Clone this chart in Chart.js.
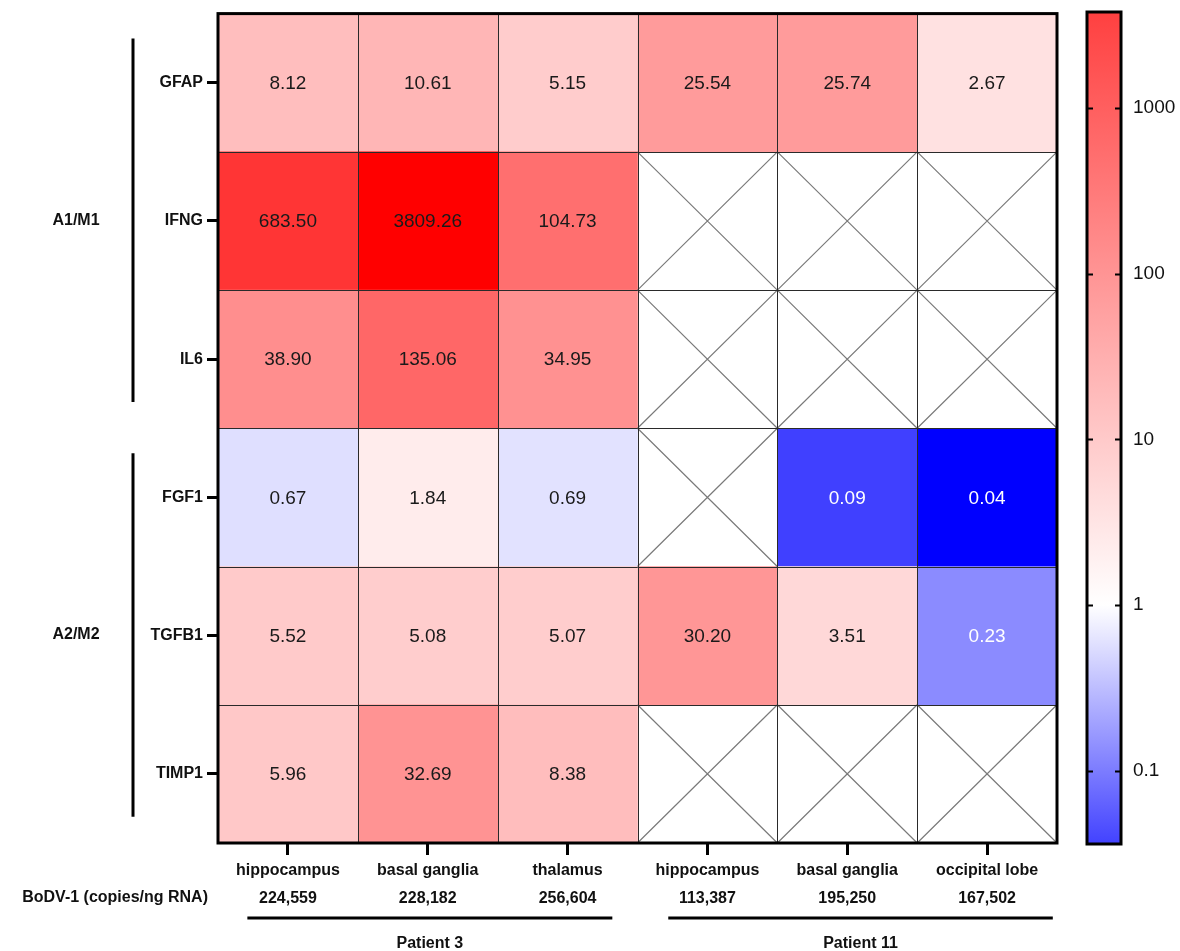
<!DOCTYPE html>
<html>
<head>
<meta charset="utf-8">
<script src="https://cdn.jsdelivr.net/npm/chart.js@4.4.1/dist/chart.umd.min.js"></script>
<style>
  html, body { margin: 0; padding: 0; background: #fff; }
  #wrap { position: relative; width: 1180px; height: 951px; }
  #heat { position: absolute; left: 0; top: 0; }
  #bar { position: absolute; left: 1060px; top: 0; }
</style>
</head>
<body>
<div id="wrap">
  <canvas id="heat" width="1070" height="951"></canvas>
  <canvas id="bar" width="120" height="951"></canvas>
</div>
<script>
// data
var GENES = ['GFAP', 'IFNG', 'IL6', 'FGF1', 'TGFB1', 'TIMP1'];
var REGIONS = ['hippocampus', 'basal ganglia', 'thalamus', 'hippocampus', 'basal ganglia', 'occipital lobe'];
var COPIES = ['224,559', '228,182', '256,604', '113,387', '195,250', '167,502'];

var GFAP  = [8.12, 10.61, 5.15, 25.54, 25.74, 2.67];
var IFNG  = [683.50, 3809.26, 104.73, null, null, null];
var IL6   = [38.90, 135.06, 34.95, null, null, null];
var FGF1  = [0.67, 1.84, 0.69, null, 0.09, 0.04];
var TGFB1 = [5.52, 5.08, 5.07, 30.20, 3.51, 0.23];
var TIMP1 = [5.96, 32.69, 8.38, null, null, null];
var VALUES = [GFAP, IFNG, IL6, FGF1, TGFB1, TIMP1];

var GROUPS = ['A1/M1', 'A2/M2'];
var GROUP_ROWS = [[0, 2], [3, 5]];
var PATIENTS = ['Patient 3', 'Patient 11'];
var PATIENT_SPAN = [[0.21, 2.82], [3.22, 5.97]];

var CB_TICKS = [0.1, 1, 10, 100, 1000];
var CB_MIN = 0.036;
var CB_MAX = 3809.26;

var FONT = "'Liberation Sans', Arial, sans-serif";
Chart.defaults.font.family = FONT;

var LOG_LO = Math.log10(0.04);
var LOG_HI = Math.log10(3809.26);

function cellColor(v) {
  var t = Math.log10(v), f, g;
  if (t >= 0) {
    f = Math.min(1, t / LOG_HI);
    g = Math.round(255 * (1 - f));
    return 'rgb(255,' + g + ',' + g + ')';
  }
  f = Math.min(1, t / LOG_LO);
  g = Math.round(255 * (1 - f));
  return 'rgb(' + g + ',' + g + ',255)';
}

function darkCell(v) {
  return v !== null && Math.log10(v) / LOG_LO > 0.4;
}

// one dataset per column, floating bars across [c, c+1]
var datasets = REGIONS.map(function (_, c) {
  return {
    label: 'col' + c,
    data: GENES.map(function (g, r) { return VALUES[r][c] === null ? null : [c, c + 1]; }),
    backgroundColor: GENES.map(function (g, r) { return VALUES[r][c] === null ? '#fff' : cellColor(VALUES[r][c]); }),
    borderWidth: 0,
    grouped: false,
    barPercentage: 1,
    categoryPercentage: 1
  };
});

var heatDecor = {
  id: 'heatDecor',
  afterDatasetsDraw: function (chart) {
    var ctx = chart.ctx, a = chart.chartArea;
    var xs = chart.scales.x, ys = chart.scales.y;
    var rowEdge = function (i) {
      if (i <= 0) return a.top;
      if (i >= GENES.length) return a.bottom;
      return (ys.getPixelForValue(i - 1) + ys.getPixelForValue(i)) / 2;
    };
    ctx.save();
    // crosses for missing cells
    ctx.strokeStyle = '#7a7a7a';
    ctx.lineWidth = 1.2;
    GENES.forEach(function (g, r) {
      REGIONS.forEach(function (_, c) {
        if (VALUES[r][c] !== null) return;
        var x0 = xs.getPixelForValue(c), x1 = xs.getPixelForValue(c + 1);
        var y0 = rowEdge(r), y1 = rowEdge(r + 1);
        ctx.beginPath();
        ctx.moveTo(x0, y0); ctx.lineTo(x1, y1);
        ctx.moveTo(x1, y0); ctx.lineTo(x0, y1);
        ctx.stroke();
      });
    });
    // cell grid
    ctx.strokeStyle = '#2a2a2a';
    ctx.lineWidth = 1;
    for (var c = 1; c < REGIONS.length; c++) {
      var x = Math.round(xs.getPixelForValue(c)) + 0.5;
      ctx.beginPath(); ctx.moveTo(x, a.top); ctx.lineTo(x, a.bottom); ctx.stroke();
    }
    for (var r = 1; r < GENES.length; r++) {
      var y = Math.round(rowEdge(r)) + 0.5;
      ctx.beginPath(); ctx.moveTo(a.left, y); ctx.lineTo(a.right, y); ctx.stroke();
    }
    // values
    ctx.font = '19px ' + FONT;
    ctx.textAlign = 'center';
    ctx.textBaseline = 'middle';
    GENES.forEach(function (g, r) {
      REGIONS.forEach(function (_, c) {
        var v = VALUES[r][c];
        if (v === null) return;
        ctx.fillStyle = darkCell(v) ? '#fff' : '#1a1a1a';
        ctx.fillText(v.toFixed(2), xs.getPixelForValue(c + 0.5), ys.getPixelForValue(r) + 1);
      });
    });
    // outer frame
    ctx.strokeStyle = '#000';
    ctx.lineWidth = 3;
    ctx.strokeRect(a.left, a.top, a.right - a.left, a.bottom - a.top);

    // group brackets on the left
    var rowH = rowEdge(1) - rowEdge(0);
    ctx.lineWidth = 3;
    ctx.font = 'bold 16px ' + FONT;
    ctx.fillStyle = '#111';
    GROUPS.forEach(function (name, i) {
      var yTop = ys.getPixelForValue(GROUP_ROWS[i][0]) - 0.32 * rowH;
      var yBot = ys.getPixelForValue(GROUP_ROWS[i][1]) + 0.31 * rowH;
      ctx.beginPath(); ctx.moveTo(133, yTop); ctx.lineTo(133, yBot); ctx.stroke();
      ctx.textAlign = 'center';
      ctx.fillText(name, 76, (yTop + yBot) / 2);
    });

    // copies row title and patient brackets
    ctx.textAlign = 'right';
    ctx.fillText('BoDV-1 (copies/ng RNA)', 208, a.bottom + 55);
    PATIENTS.forEach(function (name, i) {
      var x0 = xs.getPixelForValue(PATIENT_SPAN[i][0]);
      var x1 = xs.getPixelForValue(PATIENT_SPAN[i][1]);
      var yl = a.bottom + 75;
      ctx.beginPath(); ctx.moveTo(x0, yl); ctx.lineTo(x1, yl); ctx.stroke();
      ctx.textAlign = 'center';
      ctx.fillText(name, (x0 + x1) / 2, a.bottom + 101);
    });
    ctx.restore();
  }
};

new Chart(document.getElementById('heat'), {
  type: 'bar',
  data: { labels: GENES, datasets: datasets },
  options: {
    indexAxis: 'y',
    responsive: false,
    devicePixelRatio: 1,
    animation: false,
    layout: { padding: { left: 0, top: 12, right: 13, bottom: 0 } },
    plugins: { legend: { display: false }, tooltip: { enabled: false } },
    scales: {
      x: {
        type: 'linear',
        position: 'bottom',
        min: 0,
        max: REGIONS.length,
        afterBuildTicks: function (s) {
          s.ticks = REGIONS.map(function (_, i) { return { value: i + 0.5 }; });
        },
        afterFit: function (s) { s.height = 108; },
        border: { display: false },
        grid: { drawOnChartArea: false, drawTicks: true, tickLength: 12, tickWidth: 3, tickColor: '#000', offset: false },
        ticks: {
          autoSkip: false,
          maxRotation: 0,
          padding: 2,
          color: '#111',
          font: { size: 16, weight: 'bold', lineHeight: 1.75 },
          callback: function (v, i) { return [REGIONS[i], COPIES[i]]; }
        }
      },
      y: {
        type: 'category',
        position: 'left',
        offset: true,
        afterFit: function (s) { s.width = 218; },
        border: { display: false },
        grid: { drawOnChartArea: false, drawTicks: true, tickLength: 11, tickWidth: 3, tickColor: '#000', offset: false },
        ticks: { padding: 4, color: '#111', font: { size: 16, weight: 'bold' } }
      }
    }
  },
  plugins: [heatDecor]
});

// colour bar
function barGradient(context) {
  var chart = context.chart, a = chart.chartArea;
  if (!a) return '#fff';
  var ys = chart.scales.y;
  var top = ys.getPixelForValue(CB_MAX), bot = ys.getPixelForValue(CB_MIN);
  var one = (ys.getPixelForValue(1) - top) / (bot - top);
  var g = chart.ctx.createLinearGradient(0, top, 0, bot);
  g.addColorStop(0, 'rgb(255,64,64)');
  g.addColorStop(one, 'rgb(255,255,255)');
  g.addColorStop(1, 'rgb(66,66,255)');
  return g;
}

var barDecor = {
  id: 'barDecor',
  afterDatasetsDraw: function (chart) {
    var ctx = chart.ctx, a = chart.chartArea, ys = chart.scales.y;
    ctx.save();
    ctx.strokeStyle = '#000';
    ctx.lineWidth = 2;
    CB_TICKS.forEach(function (v) {
      var y = Math.round(ys.getPixelForValue(v)) + 0.5;
      ctx.beginPath();
      ctx.moveTo(a.left, y); ctx.lineTo(a.left + 6, y);
      ctx.moveTo(a.right - 6, y); ctx.lineTo(a.right, y);
      ctx.stroke();
    });
    ctx.lineWidth = 3;
    ctx.strokeRect(a.left, a.top, a.right - a.left, a.bottom - a.top);
    ctx.restore();
  }
};

new Chart(document.getElementById('bar'), {
  type: 'bar',
  data: {
    labels: [''],
    datasets: [{
      data: [[CB_MIN, CB_MAX]],
      backgroundColor: barGradient,
      borderWidth: 0,
      barPercentage: 1,
      categoryPercentage: 1
    }]
  },
  options: {
    responsive: false,
    devicePixelRatio: 1,
    animation: false,
    layout: { padding: { left: 27, top: 12, right: 0, bottom: 107 } },
    plugins: { legend: { display: false }, tooltip: { enabled: false } },
    scales: {
      x: { display: false },
      y: {
        type: 'logarithmic',
        position: 'right',
        min: CB_MIN,
        max: CB_MAX,
        afterBuildTicks: function (s) {
          s.ticks = CB_TICKS.map(function (v) { return { value: v }; });
        },
        afterFit: function (s) {
          s.width = 59;
          s.paddingTop = 0;
          s.paddingBottom = 0;
        },
        border: { display: false },
        grid: { display: false },
        ticks: {
          padding: 4,
          color: '#111',
          font: { size: 19 },
          callback: function (v) { return String(v); }
        }
      }
    }
  },
  plugins: [barDecor]
});
</script>
</body>
</html>
